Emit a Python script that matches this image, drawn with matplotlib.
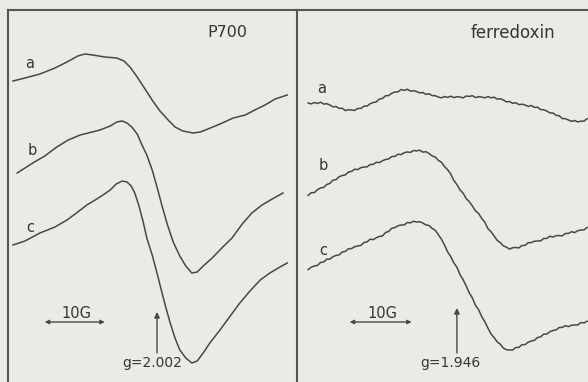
import numpy as np
import matplotlib.pyplot as plt

# P700 spectra (field offset from g-marker in G, signal in arb. units incl. trace offset)
p700_x_a = [-24.0, -22.0, -19.5, -17.0, -15.0, -13.2, -12.0, -10.7, -8.7, -6.7, -5.5, -4.5,
            -3.3, -2.0, -0.7, 0.5, 1.7, 3.0, 4.3, 6.0, 7.2, 8.5, 10.5, 12.7, 14.7, 16.3,
            18.0, 19.7, 21.7]
p700_a = [30.1, 30.4, 30.8, 31.4, 32.0, 32.6, 32.8, 32.7, 32.5, 32.4, 32.1, 31.5,
          30.5, 29.3, 28.1, 27.1, 26.3, 25.5, 25.1, 24.9, 25.0, 25.3, 25.8, 26.4, 26.7,
          27.2, 27.7, 28.3, 28.7]

p700_x_b = [-23.3, -20.7, -18.7, -16.7, -14.8, -12.8, -10.8, -9.5, -7.8, -6.7, -5.8, -5.0,
            -4.2, -3.3, -2.5, -1.7, -0.8, 0.0, 0.8, 1.7, 2.7, 3.8, 4.8, 5.8, 6.7, 7.7,
            9.2, 10.8, 12.5, 14.2, 15.8, 17.5, 19.2, 21.0]
p700_b = [20.9, 21.9, 22.6, 23.5, 24.2, 24.7, 25.0, 25.2, 25.6, 26.0, 26.1, 25.9,
          25.5, 24.8, 23.7, 22.7, 21.2, 19.5, 17.7, 15.8, 14.0, 12.6, 11.6, 10.9, 11.0, 11.6,
          12.4, 13.4, 14.4, 15.8, 16.9, 17.7, 18.3, 18.9]

p700_x_c = [-24.0, -22.0, -19.5, -17.0, -15.0, -13.2, -11.7, -10.3, -9.0, -7.8, -6.8, -5.8,
            -5.0, -4.3, -3.7, -3.0, -2.3, -1.7, -0.8, 0.0, 0.8, 1.5, 2.2, 3.0, 3.8, 4.8,
            5.8, 6.7, 7.7, 8.8, 10.5, 12.2, 13.8, 15.5, 17.2, 18.8, 20.5, 21.7]
p700_c = [13.7, 14.1, 14.9, 15.5, 16.2, 17.0, 17.7, 18.2, 18.7, 19.2, 19.8, 20.1,
          20.0, 19.6, 18.9, 17.6, 16.0, 14.4, 12.7, 10.9, 9.0, 7.4, 5.9, 4.4, 3.2, 2.4,
          1.9, 2.1, 2.9, 3.9, 5.2, 6.6, 7.9, 9.1, 10.2, 10.9, 11.5, 11.9]

# ferredoxin spectra, sampled every 0.5 G from -24 G to +21 G
fd_x = np.arange(-24.0, 21.25, 0.5)
fd_a = [27.90, 27.81, 27.95, 27.86, 27.98, 27.79, 27.83, 27.70, 27.51, 27.55,
        27.36, 27.38, 27.14, 27.23, 27.20, 27.16, 27.35, 27.36, 27.58, 27.59,
        27.83, 27.95, 28.01, 28.30, 28.36, 28.63, 28.64, 28.88, 29.00, 29.01,
        29.25, 29.16, 29.28, 29.09, 29.13, 29.05, 28.91, 28.95, 28.76, 28.83,
        28.64, 28.63, 28.50, 28.41, 28.55, 28.46, 28.58, 28.44, 28.53, 28.50,
        28.41, 28.60, 28.56, 28.63, 28.44, 28.53, 28.50, 28.41, 28.55, 28.41,
        28.48, 28.29, 28.33, 28.20, 28.01, 28.05, 27.86, 27.93, 27.74, 27.78,
        27.70, 27.56, 27.65, 27.46, 27.48, 27.24, 27.23, 27.10, 26.91, 26.90,
        26.66, 26.63, 26.34, 26.33, 26.20, 26.06, 26.15, 26.01, 26.08, 26.09,
        26.33]
fd_b = [18.66, 18.93, 18.94, 19.23, 19.40, 19.46, 19.75, 19.86, 20.18, 20.24,
        20.53, 20.65, 20.71, 21.00, 21.06, 21.28, 21.24, 21.43, 21.50, 21.51,
        21.75, 21.76, 21.98, 21.94, 22.13, 22.25, 22.31, 22.55, 22.56, 22.78,
        22.74, 22.93, 23.00, 22.96, 23.15, 23.11, 23.18, 22.99, 23.03, 22.85,
        22.61, 22.50, 22.16, 21.98, 21.54, 21.23, 20.80, 20.16, 19.75, 19.21,
        18.88, 18.34, 18.03, 17.60, 17.11, 16.85, 16.36, 15.98, 15.34, 15.03,
        14.60, 14.16, 13.95, 13.61, 13.48, 13.29, 13.43, 13.45, 13.41, 13.65,
        13.66, 13.93, 13.94, 14.08, 14.10, 14.11, 14.35, 14.36, 14.58, 14.49,
        14.63, 14.65, 14.61, 14.85, 14.86, 15.03, 14.94, 15.13, 15.20, 15.21,
        15.45]
fd_c = [11.24, 11.48, 11.60, 11.66, 11.95, 12.01, 12.28, 12.29, 12.53, 12.65,
        12.71, 13.00, 13.06, 13.33, 13.34, 13.53, 13.60, 13.66, 13.95, 14.01,
        14.28, 14.24, 14.43, 14.55, 14.61, 14.95, 15.06, 15.38, 15.44, 15.63,
        15.70, 15.71, 15.95, 15.91, 16.08, 15.99, 16.03, 15.90, 15.71, 15.65,
        15.36, 15.18, 14.74, 14.28, 13.70, 13.01, 12.55, 11.91, 11.48, 10.74,
        10.23, 9.60, 8.91, 8.40, 7.66, 7.23, 6.54, 6.03, 5.40, 4.81,
        4.45, 4.01, 3.78, 3.39, 3.23, 3.20, 3.21, 3.45, 3.46, 3.73,
        3.74, 3.98, 4.10, 4.16, 4.45, 4.51, 4.78, 4.79, 5.03, 5.15,
        5.21, 5.45, 5.46, 5.63, 5.54, 5.68, 5.70, 5.71, 5.95, 5.91,
        6.08]

trace_labels = ['a', 'b', 'c']
g_values = ['g=2.002', 'g=1.946']

bg = '#eceae5'
ink = '#474747'
txt = '#353535'

fig = plt.figure(figsize=(5.88, 3.82), dpi=100, facecolor=bg)
ax1 = fig.add_axes([8 / 588, 0, 289 / 588, 372 / 382], facecolor=bg)
ax2 = fig.add_axes([297 / 588, 0, 313 / 588, 372 / 382], facecolor=bg)

ax1.set_xlim(-24.83, 23.33)
ax2.set_xlim(-25.8, 24.7)
for ax in (ax1, ax2):
    ax.set_ylim(0, 37.2)
    ax.set_xticks([])
    ax.set_yticks([])
    for side in ('bottom', 'right'):
        ax.spines[side].set_visible(False)
    for side in ('left', 'top'):
        ax.spines[side].set_color('#555555')
        ax.spines[side].set_linewidth(1.5)

lw = 1.1
ax1.plot(p700_x_a, p700_a, color=ink, lw=lw)
ax1.plot(p700_x_b, p700_b, color=ink, lw=lw)
ax1.plot(p700_x_c, p700_c, color=ink, lw=lw)
ax2.plot(fd_x, fd_a, color=ink, lw=lw)
ax2.plot(fd_x, fd_b, color=ink, lw=lw)
ax2.plot(fd_x, fd_c, color=ink, lw=lw)

# trace letters
for lab, (x, y) in zip(trace_labels, [(-21.2, 31.9), (-20.8, 23.2), (-21.2, 15.5)]):
    ax1.text(x, y, lab, fontsize=10.5, color=txt, ha='center', va='center')
for lab, (x, y) in zip(trace_labels, [(-21.9, 29.4), (-21.5, 21.7), (-21.6, 13.2)]):
    ax2.text(x, y, lab, fontsize=10.5, color=txt, ha='center', va='center')

ax1.text(11.7, 35.0, 'P700', fontsize=11.5, color=txt, ha='center', va='center')
ax2.text(9.0, 34.9, 'ferredoxin', fontsize=12, color=txt, ha='center', va='center')

# 10 G scale bars
arrow = dict(arrowstyle='<|-|>', color=ink, lw=1.0, mutation_scale=6, shrinkA=0, shrinkB=0)
ax1.annotate('', xy=(-18.7, 6.0), xytext=(-8.7, 6.0), arrowprops=arrow)
ax1.text(-13.5, 6.9, '10G', fontsize=10.5, color=txt, ha='center', va='center')
ax2.annotate('', xy=(-17.3, 6.0), xytext=(-7.3, 6.0), arrowprops=arrow)
ax2.text(-12.0, 6.9, '10G', fontsize=10.5, color=txt, ha='center', va='center')

# g-value markers
up = dict(arrowstyle='-|>', color=ink, lw=1.0, mutation_scale=8, shrinkA=0, shrinkB=0)
ax1.annotate('', xy=(0, 7.0), xytext=(0, 2.9), arrowprops=up)
ax1.text(-0.8, 1.9, g_values[0], fontsize=10, color=txt, ha='center', va='center')
ax2.annotate('', xy=(0, 7.4), xytext=(0, 2.9), arrowprops=up)
ax2.text(-1.1, 1.9, g_values[1], fontsize=10, color=txt, ha='center', va='center')

fig.savefig('out.png', dpi=100, facecolor=bg)
